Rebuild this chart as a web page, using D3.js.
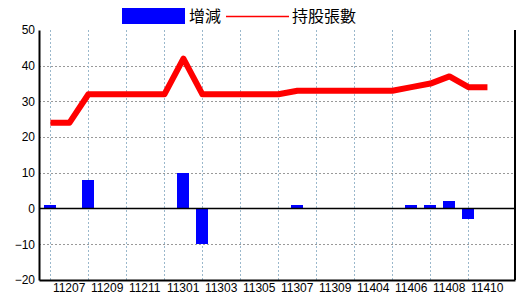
<!DOCTYPE html>
<html>
<head>
<meta charset="utf-8">
<script src="https://cdn.jsdelivr.net/npm/d3@7"></script>
<style>
  body { margin: 0; background: #fff; }
  .tick text { font-family: "Liberation Sans Narrow", "Liberation Sans", sans-serif; font-size: 12px; fill: #000; }
</style>
</head>
<body>
<div class="chart"></div>
<script>
// months (ROC year + month), every other one labelled
var months = ["11207", "11208", "11209", "11210", "11211", "11212", "11301", "11302",
    "11303", "11304", "11305", "11306", "11307", "11308", "11309", "11312",
    "11404", "11405", "11406", "11407", "11408", "11409", "11410", "11411"];
var holdings = [24, 24, 32, 32, 32, 32, 32, 42, 32, 32, 32, 32, 32, 33, 33, 33,
    33, 33, 33, 34, 35, 37, 34, 34];
var change = [1, 0, 8, 0, 0, 0, 0, 10, -10, 0, 0, 0, 0, 1, 0, 0,
    0, 0, 0, 1, 1, 2, -3, 0];
var yTicks = [-20, -10, 0, 10, 20, 30, 40, 50];
var legendNames = ["增減", "持股張數"];

var svgWidth = 520, svgHeight = 300;
var margin = { top: 30, right: 5, bottom: 20, left: 39 };
var width = svgWidth - margin.left - margin.right;
var height = svgHeight - margin.top - margin.bottom;

var svg = d3.select(".chart")
    .append("svg")
    .attr("width", svgWidth)
    .attr("height", svgHeight);

var chartGroup = svg.append("g")
    .attr("transform", `translate(${margin.left}, ${margin.top})`);

var xScale = d3.scaleLinear()
    .domain([-0.6, months.length + 0.45])
    .range([0, width]);

var yScale = d3.scaleLinear()
    .domain([-20, 50])
    .range([height, 0]);

// horizontal grid
chartGroup.selectAll(".hgrid")
    .data(yTicks.filter(d => d != 0 && d != 50 && d != -20))
    .enter()
    .append("line")
    .attr("x1", 0).attr("x2", width)
    .attr("y1", d => Math.round(yScale(d)) + 0.5)
    .attr("y2", d => Math.round(yScale(d)) + 0.5)
    .attr("stroke", "#999")
    .attr("stroke-dasharray", "2,2");

// vertical grid at labelled months
var labelIdx = months.map((m, i) => i).filter(i => i % 2 == 0);
chartGroup.selectAll(".vgrid")
    .data(labelIdx)
    .enter()
    .append("line")
    .attr("x1", d => Math.round(xScale(d)) + 0.5)
    .attr("x2", d => Math.round(xScale(d)) + 0.5)
    .attr("y1", 0).attr("y2", height)
    .attr("stroke", "#9ab8cc")
    .attr("stroke-dasharray", "2,2");

// bars
chartGroup.selectAll(".bar")
    .data(change.map((v, i) => ({ v: v, i: i })).filter(d => d.v != 0))
    .enter()
    .append("rect")
    .attr("x", d => Math.round(xScale(d.i)) - 6)
    .attr("width", 12)
    .attr("y", d => yScale(Math.max(0, d.v)))
    .attr("height", d => Math.abs(yScale(d.v) - yScale(0)))
    .attr("fill", "#0000ff")
    .attr("shape-rendering", "crispEdges");

// zero line
chartGroup.append("line")
    .attr("x1", 0).attr("x2", width)
    .attr("y1", yScale(0)).attr("y2", yScale(0))
    .attr("stroke", "#000")
    .attr("stroke-width", 1.5);

// holdings line
var line = d3.line()
    .x((d, i) => xScale(i))
    .y(d => yScale(d));

chartGroup.append("path")
    .datum(holdings)
    .attr("d", line)
    .attr("fill", "none")
    .attr("stroke", "#ff0000")
    .attr("stroke-width", 6)
    .attr("stroke-linejoin", "round");

// axes
var leftAxis = d3.axisLeft(yScale).tickValues(yTicks).tickSize(0).tickPadding(4);
chartGroup.append("g")
    .call(leftAxis)
    .call(g => g.select(".domain").attr("stroke-width", 2));

var bottomAxis = d3.axisBottom(xScale)
    .tickValues(labelIdx)
    .tickFormat(i => months[i])
    .tickSize(0)
    .tickPadding(3);
chartGroup.append("g")
    .attr("transform", `translate(0, ${height})`)
    .call(bottomAxis)
    .call(g => g.select(".domain").attr("stroke-width", 2))
    .call(g => g.selectAll(".tick text").attr("text-anchor", "start").attr("dx", 2));

chartGroup.append("line")
    .attr("x1", width).attr("x2", width)
    .attr("y1", 0).attr("y2", height)
    .attr("stroke", "#000")
    .attr("stroke-width", 2);

// legend
var legend = svg.append("g").attr("font-family", "'Noto Sans CJK TC', sans-serif").attr("font-size", "16px");
legend.append("rect")
    .attr("x", 122).attr("y", 8).attr("width", 63).attr("height", 16)
    .attr("fill", "#0000ff");
legend.append("text")
    .attr("x", 189).attr("y", 22)
    .text(legendNames[0]);
legend.append("line")
    .attr("x1", 226).attr("x2", 289).attr("y1", 16.5).attr("y2", 16.5)
    .attr("stroke", "#ff0000")
    .attr("stroke-width", 1.5);
legend.append("text")
    .attr("x", 292).attr("y", 22)
    .text(legendNames[1]);
</script>
</body>
</html>
